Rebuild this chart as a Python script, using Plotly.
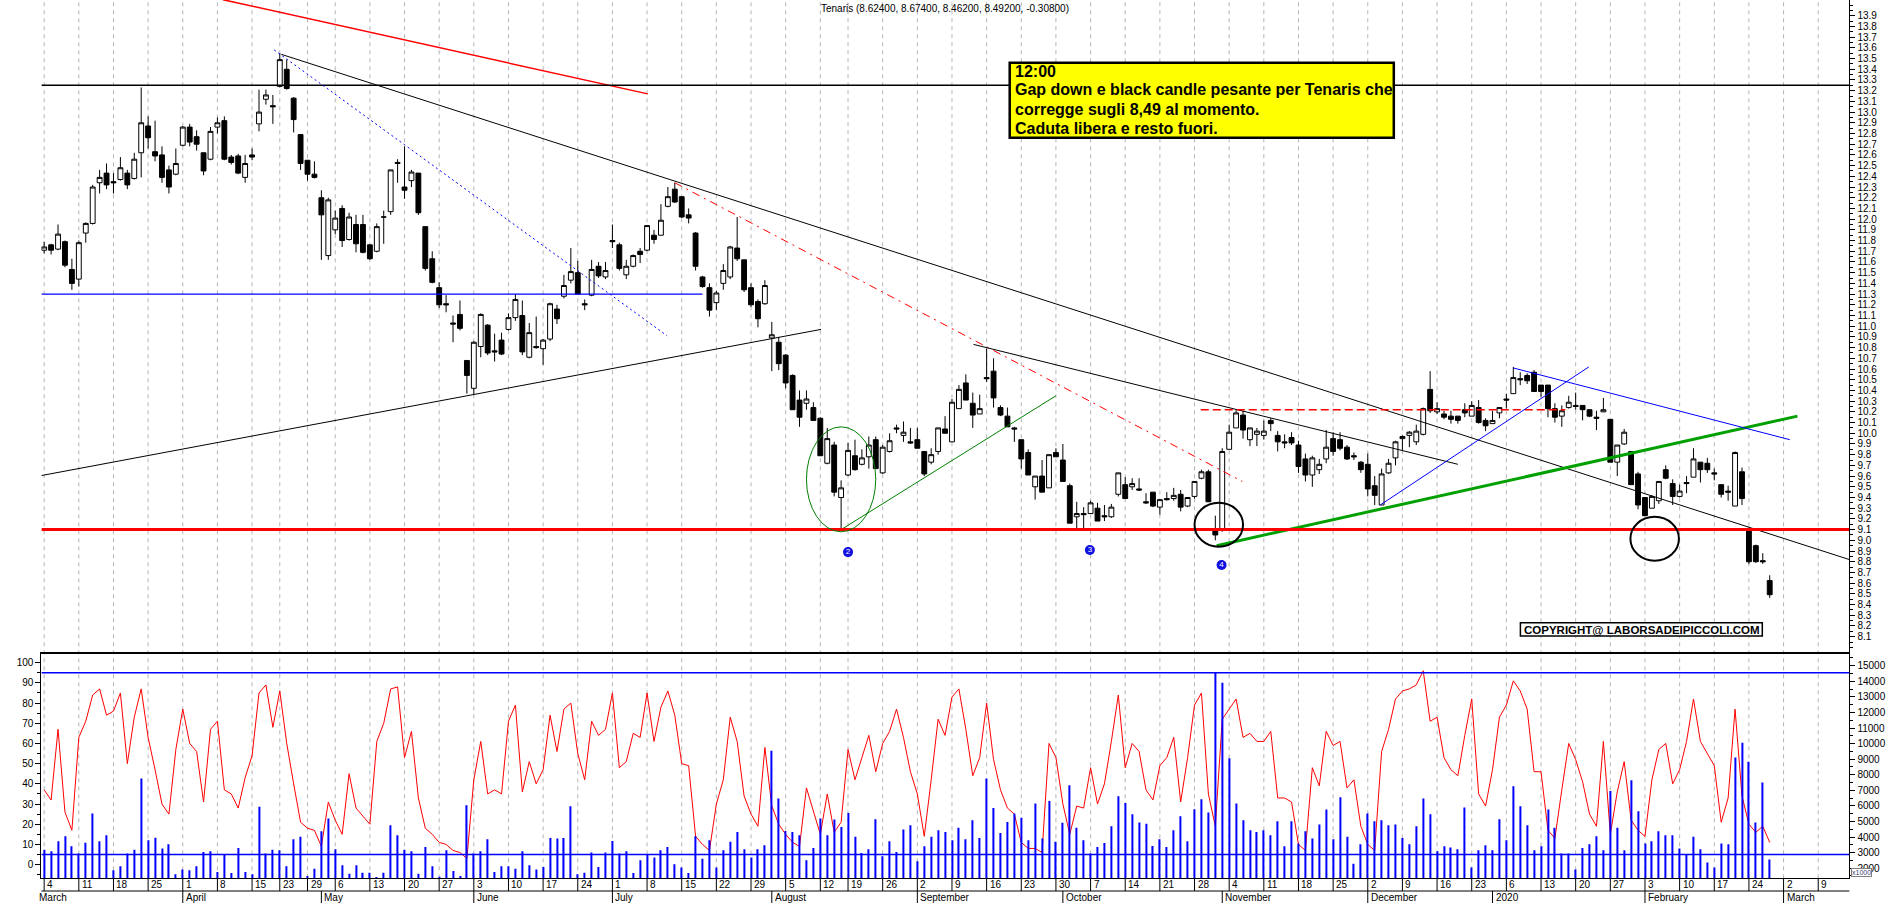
import pandas as pd
import plotly.graph_objects as go

# ---------------- data ----------------
holidays = ["2019-04-19", "2019-04-22", "2019-05-01", "2019-08-15", "2019-12-24",
            "2019-12-25", "2019-12-26", "2019-12-31", "2020-01-01"]
trading_days = [d.strftime("%Y-%m-%d") for d in pd.bdate_range("2019-03-04", "2020-03-13")
                if d.strftime("%Y-%m-%d") not in holidays]
pos = {d: i for i, d in enumerate(trading_days)}

open_ = [11.71, 11.76, 11.72, 11.79, 11.53, 11.44, 11.87, 11.96, 12.34, 12.43,
         12.35, 12.37, 12.43, 12.38, 12.62, 12.87, 12.63, 12.60, 12.46, 12.42,
         12.69, 12.86, 12.77, 12.62, 12.56, 12.86, 12.92, 12.58, 12.59, 12.39,
         12.60, 12.89, 13.12, 13.06, 13.24, 13.40, 13.13, 12.79, 12.55, 12.42,
         12.20, 11.66, 11.90, 12.10, 11.81, 11.95, 11.95, 11.76, 11.70, 12.02,
         12.07, 12.53, 12.30, 12.36, 12.43, 11.93, 11.63, 11.36, 11.21, 11.03,
         11.11, 10.68, 10.42, 10.81, 11.01, 10.77, 10.87, 10.97, 11.08, 11.10,
         10.71, 10.81, 10.79, 10.88, 11.16, 11.28, 11.43, 11.50, 11.21, 11.29,
         11.56, 11.46, 11.80, 11.76, 11.48, 11.56, 11.70, 11.71, 11.85, 11.85,
         12.12, 12.28, 12.21, 12.04, 11.87, 11.46, 11.36, 11.22, 11.40, 11.46,
         11.73, 11.62, 11.36, 11.23, 11.21, 10.89, 10.85, 10.73, 10.54, 10.31,
         10.28, 10.24, 10.14, 9.72, 9.89, 9.40, 9.61, 9.79, 9.71, 9.78,
         9.94, 9.63, 9.83, 10.05, 9.98, 9.92, 9.94, 9.83, 9.73, 9.83,
         10.04, 9.92, 10.23, 10.47, 10.28, 10.18, 10.52, 10.58, 10.24, 10.16,
         10.05, 9.94, 9.82, 9.50, 9.60, 9.49, 9.82, 9.75, 9.51, 9.22,
         9.25, 9.25, 9.30, 9.23, 9.22, 9.43, 9.52, 9.50, 9.48, 9.36,
         9.45, 9.31, 9.39, 9.39, 9.43, 9.32, 9.41, 9.58, 9.64, 9.10,
         9.11, 9.85, 10.05, 10.17, 9.94, 9.99, 9.98, 10.12, 9.98, 9.92,
         9.96, 9.89, 9.76, 9.61, 9.66, 9.76, 9.95, 9.94, 9.87, 9.79,
         9.73, 9.71, 9.51, 9.33, 9.63, 9.77, 9.95, 9.98, 9.92, 9.99,
         10.41, 10.20, 10.18, 10.16, 10.16, 10.22, 10.16, 10.24, 10.12, 10.09,
         10.19, 10.32, 10.37, 10.51, 10.54, 10.57, 10.45, 10.45, 10.23, 10.16,
         10.24, 10.26, 10.26, 10.22, 10.15, 10.20, 10.13, 9.73, 9.90, 9.83,
         9.62, 9.40, 9.30, 9.37, 9.66, 9.53, 9.41, 9.54, 9.59, 9.73,
         9.72, 9.63, 9.52, 9.46, 9.32, 9.64, 9.10, 8.95, 8.81, 8.624]
high = [11.79, 11.77, 11.95, 11.80, 11.63, 11.80, 11.97, 12.32, 12.46, 12.52,
        12.43, 12.58, 12.46, 12.62, 13.23, 12.96, 12.92, 12.68, 12.50, 12.66,
        12.87, 12.89, 12.83, 12.62, 12.86, 12.95, 12.96, 12.60, 12.61, 12.60,
        12.66, 13.21, 13.21, 13.16, 13.55, 13.49, 13.14, 12.79, 12.55, 12.54,
        12.27, 12.20, 12.08, 12.13, 12.06, 12.04, 12.04, 11.76, 11.96, 12.08,
        12.46, 12.56, 12.68, 12.46, 12.43, 11.93, 11.70, 11.41, 11.29, 11.10,
        11.24, 10.68, 10.86, 11.12, 11.02, 10.93, 10.94, 11.12, 11.30, 11.24,
        11.03, 11.09, 10.88, 11.22, 11.20, 11.48, 11.73, 11.61, 11.25, 11.62,
        11.60, 11.60, 11.95, 11.78, 11.62, 11.67, 11.73, 11.94, 11.90, 12.14,
        12.30, 12.34, 12.21, 12.10, 11.88, 11.47, 11.40, 11.33, 11.58, 11.75,
        12.02, 11.62, 11.40, 11.25, 11.43, 11.04, 10.90, 10.74, 10.55, 10.40,
        10.40, 10.29, 10.15, 10.05, 9.92, 9.56, 9.91, 9.94, 9.85, 9.97,
        9.97, 9.89, 10.00, 10.08, 10.11, 10.05, 10.05, 9.83, 9.86, 10.05,
        10.16, 10.32, 10.45, 10.55, 10.38, 10.36, 10.79, 10.70, 10.26, 10.24,
        10.06, 9.94, 9.85, 9.60, 9.75, 9.80, 9.86, 9.90, 9.53, 9.36,
        9.31, 9.37, 9.35, 9.33, 9.34, 9.63, 9.59, 9.58, 9.58, 9.44,
        9.45, 9.38, 9.45, 9.49, 9.47, 9.40, 9.55, 9.66, 9.66, 9.23,
        9.86, 10.08, 10.22, 10.21, 10.05, 10.05, 10.12, 10.14, 10.02, 9.99,
        10.01, 9.93, 9.81, 9.79, 9.76, 10.03, 10.01, 10.01, 9.89, 9.82,
        9.74, 9.81, 9.60, 9.67, 9.76, 9.93, 9.98, 10.02, 10.08, 10.24,
        10.58, 10.29, 10.21, 10.21, 10.16, 10.28, 10.30, 10.31, 10.14, 10.21,
        10.24, 10.37, 10.62, 10.57, 10.56, 10.59, 10.45, 10.45, 10.28, 10.26,
        10.35, 10.38, 10.26, 10.22, 10.21, 10.33, 10.13, 9.89, 10.04, 9.83,
        9.64, 9.40, 9.42, 9.55, 9.70, 9.57, 9.52, 9.60, 9.86, 9.73,
        9.77, 9.67, 9.52, 9.51, 9.83, 9.68, 9.12, 8.96, 8.88, 8.674]
low = [11.68, 11.67, 11.71, 11.55, 11.34, 11.37, 11.78, 11.95, 12.24, 12.28,
       12.24, 12.36, 12.28, 12.37, 12.39, 12.66, 12.54, 12.34, 12.24, 12.41,
       12.68, 12.68, 12.64, 12.41, 12.55, 12.80, 12.55, 12.51, 12.42, 12.34,
       12.55, 12.82, 13.07, 12.89, 13.23, 13.21, 12.81, 12.46, 12.36, 12.38,
       11.62, 11.62, 11.86, 11.74, 11.80, 11.69, 11.68, 11.62, 11.69, 11.77,
       12.04, 12.34, 12.19, 12.30, 12.04, 11.52, 11.40, 11.17, 11.13, 10.85,
       10.96, 10.37, 10.36, 10.71, 10.73, 10.67, 10.73, 10.96, 11.05, 10.73,
       10.70, 10.79, 10.64, 10.86, 11.02, 11.26, 11.40, 11.30, 11.15, 11.28,
       11.45, 11.44, 11.73, 11.52, 11.44, 11.55, 11.59, 11.70, 11.77, 11.85,
       12.11, 12.15, 12.01, 11.96, 11.52, 11.36, 11.09, 11.15, 11.34, 11.44,
       11.61, 11.32, 11.18, 10.99, 11.20, 10.58, 10.59, 10.42, 10.22, 10.06,
       10.22, 10.12, 9.79, 9.71, 9.41, 9.10, 9.60, 9.65, 9.70, 9.67,
       9.67, 9.62, 9.82, 10.00, 9.92, 9.90, 9.86, 9.60, 9.71, 9.80,
       10.00, 9.92, 10.23, 10.31, 10.05, 10.18, 10.48, 10.24, 10.16, 10.06,
       9.92, 9.67, 9.61, 9.38, 9.45, 9.49, 9.78, 9.55, 9.16, 9.10,
       9.10, 9.25, 9.18, 9.18, 9.21, 9.41, 9.39, 9.47, 9.46, 9.34,
       9.31, 9.24, 9.37, 9.37, 9.27, 9.31, 9.39, 9.57, 9.36, 9.00,
       9.08, 9.85, 10.05, 9.95, 9.88, 9.88, 9.94, 10.02, 9.83, 9.86,
       9.89, 9.63, 9.55, 9.50, 9.62, 9.72, 9.79, 9.84, 9.75, 9.75,
       9.63, 9.41, 9.33, 9.33, 9.62, 9.70, 9.84, 9.87, 9.89, 9.98,
       10.19, 10.18, 10.13, 10.09, 10.09, 10.15, 10.16, 10.09, 10.02, 10.09,
       10.14, 10.23, 10.37, 10.45, 10.46, 10.39, 10.34, 10.15, 10.10, 10.06,
       10.23, 10.22, 10.12, 10.15, 10.03, 10.20, 9.73, 9.60, 9.89, 9.52,
       9.29, 9.23, 9.30, 9.34, 9.57, 9.33, 9.40, 9.44, 9.59, 9.54,
       9.63, 9.56, 9.40, 9.37, 9.32, 9.33, 8.78, 8.79, 8.78, 8.462]
close = [11.74, 11.71, 11.86, 11.57, 11.40, 11.78, 11.96, 12.30, 12.39, 12.32,
         12.34, 12.48, 12.32, 12.56, 12.90, 12.76, 12.59, 12.39, 12.30, 12.52,
         12.86, 12.72, 12.70, 12.45, 12.82, 12.90, 12.56, 12.53, 12.43, 12.52,
         12.58, 13.00, 13.16, 13.05, 13.49, 13.22, 12.93, 12.52, 12.42, 12.39,
         12.04, 12.18, 12.01, 11.80, 12.02, 11.77, 11.69, 11.63, 11.93, 12.02,
         12.46, 12.52, 12.27, 12.44, 12.06, 11.54, 11.41, 11.20, 11.20, 11.02,
         10.98, 10.54, 10.85, 11.11, 10.75, 10.76, 10.74, 11.08, 11.25, 10.76,
         10.94, 10.80, 10.87, 11.21, 11.07, 11.38, 11.51, 11.30, 11.20, 11.53,
         11.47, 11.52, 11.79, 11.54, 11.56, 11.66, 11.67, 11.94, 11.81, 11.99,
         12.21, 12.16, 12.02, 12.01, 11.56, 11.37, 11.15, 11.31, 11.52, 11.74,
         11.63, 11.34, 11.20, 11.07, 11.38, 10.92, 10.65, 10.47, 10.22, 10.15,
         10.32, 10.12, 9.79, 9.95, 9.45, 9.49, 9.84, 9.66, 9.77, 9.89,
         9.67, 9.87, 9.93, 10.04, 10.01, 9.91, 9.86, 9.62, 9.80, 10.05,
         10.00, 10.29, 10.41, 10.31, 10.17, 10.23, 10.51, 10.33, 10.17, 10.06,
         10.04, 9.76, 9.61, 9.60, 9.45, 9.80, 9.78, 9.55, 9.16, 9.25,
         9.24, 9.35, 9.18, 9.22, 9.31, 9.63, 9.39, 9.53, 9.47, 9.35,
         9.32, 9.38, 9.38, 9.42, 9.31, 9.40, 9.55, 9.64, 9.36, 9.05,
         9.83, 10.01, 10.19, 10.03, 10.05, 10.02, 10.02, 10.09, 9.92, 9.91,
         9.91, 9.69, 9.61, 9.77, 9.71, 9.87, 9.83, 9.86, 9.76, 9.78,
         9.66, 9.48, 9.42, 9.62, 9.72, 9.92, 9.97, 10.01, 10.02, 10.23,
         10.21, 10.23, 10.15, 10.13, 10.12, 10.19, 10.26, 10.10, 10.07, 10.12,
         10.24, 10.31, 10.52, 10.50, 10.49, 10.39, 10.39, 10.23, 10.15, 10.21,
         10.29, 10.25, 10.22, 10.16, 10.14, 10.22, 9.73, 9.89, 10.01, 9.52,
         9.33, 9.23, 9.41, 9.55, 9.58, 9.41, 9.46, 9.53, 9.76, 9.66,
         9.66, 9.62, 9.43, 9.45, 9.82, 9.39, 8.80, 8.80, 8.80, 8.492]

stoch = [37, 32, 67, 26, 17, 63, 71, 84, 87, 74, 76, 85, 50, 73, 87, 63, 47, 30, 25, 57,
         77, 60, 56, 31, 67, 71, 37, 35, 28, 43, 54, 85, 89, 68, 86, 60, 40, 21, 18, 17,
         9, 31, 22, 15, 45, 28, 24, 20, 61, 70, 87, 88, 53, 66, 33, 18, 15, 11, 10, 7,
         6, 3, 42, 61, 35, 37, 35, 71, 79, 36, 51, 40, 47, 74, 56, 77, 80, 55, 42, 71,
         64, 67, 85, 48, 51, 65, 63, 85, 61, 78, 86, 74, 50, 49, 14, 10, 7, 30, 42, 73,
         61, 34, 25, 19, 58, 29, 20, 15, 11, 9, 38, 26, 15, 35, 16, 21, 57, 42, 53, 64,
         46, 60, 66, 77, 63, 46, 35, 14, 42, 72, 64, 83, 87, 67, 44, 53, 80, 52, 37, 28,
         25, 11, 8, 8, 6, 60, 53, 30, 15, 29, 28, 48, 30, 40, 61, 84, 48, 60, 56, 37,
         32, 49, 53, 63, 31, 53, 79, 85, 35, 19, 72, 77, 82, 63, 65, 61, 61, 66, 33, 33,
         31, 10, 7, 48, 39, 66, 59, 61, 38, 42, 19, 10, 7, 56, 67, 82, 86, 87, 89, 96,
         71, 73, 53, 47, 44, 64, 82, 35, 29, 47, 73, 79, 91, 86, 77, 46, 46, 17, 13, 37,
         60, 52, 41, 25, 19, 61, 15, 36, 51, 22, 17, 14, 42, 57, 60, 40, 47, 61, 82, 61,
         55, 49, 21, 33, 77, 34, 20, 16, 19, 11]

volume = [3190, 3090, 3730, 4050, 3410, 2940, 3640, 5510, 3730, 4110,
          1860, 2120, 2940, 3190, 7760, 3790, 3960, 3260, 3540, 1610,
          1910, 1860, 2120, 3040, 3090, 1760, 2890, 1690, 3300, 1760,
          1610, 5940, 2940, 3190, 3150, 2120, 3860, 4010, 1500, 1970,
          4370, 5190, 3210, 2190, 1650, 2190, 1710, 1710, 1440, 1710,
          4760, 4110, 3190, 3090, 1650, 3360, 2120, 1450, 3150, 1820,
          1500, 6040, 2940, 3090, 3860, 1760, 2120, 2120, 1970, 3090,
          2190, 1910, 2080, 3940, 3900, 3940, 5980, 1610, 1710, 3000,
          2080, 3000, 3750, 2940, 3090, 1690, 2510, 2890, 2680, 3150,
          3360, 2250, 2040, 1690, 4050, 2610, 3790, 2040, 3150, 3690,
          4330, 3210, 2680, 3210, 3470, 9540, 6470, 4390, 4330, 4110,
          2510, 3300, 5190, 4110, 5120, 4650, 5550, 4010, 2980, 3210,
          5140, 2760, 3730, 3040, 4480, 4760, 2440, 3410, 4010, 4440,
          4330, 3790, 4590, 3860, 5080, 3940, 7760, 5870, 4260, 4970,
          5510, 5230, 3790, 6150, 3900, 6320, 3690, 4910, 7330, 4590,
          3790, 2940, 3360, 3620, 4690, 6620, 6190, 5460, 4930, 4860,
          3430, 3860, 3360, 4440, 5340, 3730, 5790, 6430, 5570, 14550,
          13910, 9060, 6150, 5080, 4440, 4330, 4440, 4110, 5010, 3410,
          5010, 3580, 4370, 3900, 4800, 5760, 3860, 6560, 4010, 2290,
          3540, 5510, 5010, 5080, 4760, 4800, 3940, 3540, 4690, 6470,
          5460, 3090, 3410, 3320, 3210, 5890, 2040, 3150, 3470, 3150,
          5140, 3790, 7260, 5980, 4760, 3150, 3410, 5760, 4590, 2940,
          2940, 1910, 3300, 3540, 4050, 3150, 6960, 4590, 3150, 7650,
          5660, 3580, 3730, 4370, 4110, 4110, 3260, 2870, 4010, 3210,
          2360, 2040, 3580, 3540, 9110, 10050, 8830, 4930, 7500, 2550]

dates = trading_days[:len(close)]
xi = [pos[d] for d in dates]

# axis ticks / labels
week_starts = ["2019-03-04", "2019-03-11", "2019-03-18", "2019-03-25", "2019-04-01", "2019-04-08",
               "2019-04-15", "2019-04-23", "2019-04-29", "2019-05-06", "2019-05-13", "2019-05-20",
               "2019-05-27", "2019-06-03", "2019-06-10", "2019-06-17", "2019-06-24", "2019-07-01",
               "2019-07-08", "2019-07-15", "2019-07-22", "2019-07-29", "2019-08-05", "2019-08-12",
               "2019-08-19", "2019-08-26", "2019-09-02", "2019-09-09", "2019-09-16", "2019-09-23",
               "2019-09-30", "2019-10-07", "2019-10-14", "2019-10-21", "2019-10-28", "2019-11-04",
               "2019-11-11", "2019-11-18", "2019-11-25", "2019-12-02", "2019-12-09", "2019-12-16",
               "2019-12-23", "2020-01-06", "2020-01-13", "2020-01-20", "2020-01-27", "2020-02-03",
               "2020-02-10", "2020-02-17", "2020-02-24", "2020-03-02", "2020-03-09"]
month_starts = ["2019-04-01", "2019-05-02", "2019-06-03", "2019-07-01", "2019-08-01", "2019-09-02",
                "2019-10-01", "2019-11-01", "2019-12-02", "2020-01-02", "2020-02-03", "2020-03-02"]
month_names = ["April", "May", "June", "July", "August", "September", "October", "November",
               "December", "2020", "February", "March"]
price_ticks = [round(8.1 + 0.1 * k, 1) for k in range(59)]
stoch_ticks = list(range(0, 101, 10))
volume_ticks = list(range(2000, 15001, 1000))

# drawn studies (trading-day position, price)
trend_lines = [
    (25.8, 14.05, 87.1, 13.17),
    (-0.4, 13.25, 260.5, 13.25),
    (-0.4, 11.30, 95.0, 11.30),
    (34.2, 13.54, 260.5, 8.82),
    (-0.4, 9.605, 112.1, 10.97),
    (33.2, 13.58, 89.9, 10.91),
    (91.0, 12.34, 172.9, 9.55),
    (134.1, 10.83, 204.0, 9.71),
    (115.0, 9.10, 146.0, 10.35),
    (166.9, 10.22, 219.5, 10.22),
    (169.2, 8.95, 253.0, 10.16),
    (192.8, 9.33, 222.9, 10.62),
    (212.0, 10.61, 251.9, 9.94),
    (-0.4, 9.10, 260.5, 9.10),
]
trend_styles = [
    ("#ff0000", 1.5, "solid"), ("#000000", 1.5, "solid"), ("#0000ff", 1.2, "solid"),
    ("#000000", 1, "solid"), ("#000000", 1, "solid"), ("#0000ff", 1, "2px,3px"),
    ("#ff0000", 1, "8px,5px,2px,5px"), ("#000000", 1, "solid"), ("#008000", 1, "solid"),
    ("#ff0000", 1.5, "8px,4px"), ("#00a000", 3, "solid"), ("#0000ff", 1, "solid"),
    ("#0000ff", 1, "solid"), ("#ff0000", 3, "solid"),
]
ellipses = [(110.0, 9.08, 120.0, 10.06), (166.0, 8.94, 173.0, 9.35), (228.9, 8.81, 235.9, 9.22)]
ellipse_styles = [("#008000", 1), ("#000000", 2), ("#000000", 2)]
wave_labels = ["2", "3", "4"]
wave_x = [116.0, 150.9, 169.9]
wave_y = [8.89, 8.91, 8.77]

# ---------------- layout geometry (pixels) ----------------
W, H = 1890, 903
PL, PR = 41.4, 1849.4
Y_SEP, Y_BOT, ROW2 = 652.3, 878.3, 891.0
X_RANGE = [-0.4, 260.5]
P_RANGE = [7.954, 14.047]
S_RANGE = [-6.78, 105.14]
V_RANGE = [1350, 15860]


def fx(p):
    return p / W


def fy(p):
    return 1 - p / H


FONT = "Liberation Sans, Arial, sans-serif"

fig = go.Figure()

fig.add_trace(go.Bar(x=xi, y=volume, width=0.16, marker=dict(color="#0000ff", line=dict(width=0)),
                     xaxis="x2", yaxis="y4", hoverinfo="skip"))
fig.add_trace(go.Scatter(x=xi, y=stoch, mode="lines", line=dict(color="#ff0000", width=1),
                         xaxis="x2", yaxis="y3", hoverinfo="skip"))
fig.add_trace(go.Candlestick(
    x=xi, open=open_, high=high, low=low, close=close,
    increasing=dict(line=dict(color="black", width=1), fillcolor="white"),
    decreasing=dict(line=dict(color="black", width=1), fillcolor="black"),
    whiskerwidth=0, xaxis="x", yaxis="y", hoverinfo="skip"))
fig.add_trace(go.Scatter(x=wave_x, y=wave_y, mode="markers+text", text=wave_labels,
                         textposition="middle center",
                         textfont=dict(color="white", size=8, family=FONT),
                         marker=dict(color="#1010e0", size=10), xaxis="x", yaxis="y",
                         hoverinfo="skip"))

shapes = []
# weekly dashed grid
for d in week_starts:
    shapes.append(dict(type="line", xref="x", yref="paper", x0=pos[d], x1=pos[d],
                       y0=fy(Y_BOT), y1=1, line=dict(color="#b4b4b4", width=1, dash="4px,4px"),
                       layer="below"))
    shapes.append(dict(type="line", xref="x", yref="paper", x0=pos[d], x1=pos[d],
                       y0=fy(ROW2), y1=fy(Y_BOT), line=dict(color="black", width=1)))
for d in month_starts:
    shapes.append(dict(type="line", xref="x", yref="paper", x0=pos[d], x1=pos[d],
                       y0=0, y1=fy(ROW2), line=dict(color="black", width=1)))
shapes.append(dict(type="line", xref="paper", yref="paper", x0=fx(PL), x1=fx(PR),
                   y0=fy(ROW2), y1=fy(ROW2), line=dict(color="black", width=1)))
# stochastic 5 / 95 levels
for lvl in (5, 95):
    shapes.append(dict(type="line", xref="x2", yref="y3", x0=X_RANGE[0], x1=X_RANGE[1],
                       y0=lvl, y1=lvl, line=dict(color="#0000ff", width=1.5)))
# trend lines
for (x0, y0, x1, y1), (c, w, dsh) in zip(trend_lines, trend_styles):
    shapes.append(dict(type="line", xref="x", yref="y", x0=x0, y0=y0, x1=x1, y1=y1,
                       line=dict(color=c, width=w, dash=dsh)))
for (x0, y0, x1, y1), (c, w) in zip(ellipses, ellipse_styles):
    shapes.append(dict(type="circle", xref="x", yref="y", x0=x0, y0=y0, x1=x1, y1=y1,
                       line=dict(color=c, width=w)))
# comment box and copyright box
shapes.append(dict(type="rect", xref="paper", yref="paper", x0=fx(1009.7), x1=fx(1393.8),
                   y0=fy(137.7), y1=fy(62.7), fillcolor="#ffff00",
                   line=dict(color="black", width=2.5)))
shapes.append(dict(type="rect", xref="paper", yref="paper", x0=fx(1520.4), x1=fx(1762.3),
                   y0=fy(636.0), y1=fy(622.7), fillcolor="white",
                   line=dict(color="black", width=1.5)))

annotations = []
for d in week_starts:
    annotations.append(dict(x=pos[d], xref="x", y=fy(884.6), yref="paper",
                            text=str(int(d[-2:])), showarrow=False, xanchor="left",
                            yanchor="middle", xshift=1, font=dict(size=10, color="black", family=FONT)))
annotations.append(dict(x=fx(37), xref="paper", y=fy(897.6), yref="paper", text="March",
                        showarrow=False, xanchor="left", yanchor="middle",
                        font=dict(size=10, color="black", family=FONT)))
for d, name in zip(month_starts, month_names):
    annotations.append(dict(x=pos[d], xref="x", y=fy(897.6), yref="paper", text=name,
                            showarrow=False, xanchor="left", yanchor="middle", xshift=1,
                            font=dict(size=10, color="black", family=FONT)))
annotations.append(dict(x=fx(945), xref="paper", y=fy(8.5), yref="paper",
                        text="Tenaris (8.62400, 8.67400, 8.46200, 8.49200, -0.30800)",
                        showarrow=False, xanchor="center", yanchor="middle",
                        font=dict(size=10, color="black", family=FONT)))
box_lines = ["12:00", "Gap down e black candle pesante per Tenaris che",
             "corregge sugli 8,49 al momento.", "Caduta libera e resto fuori."]
for txt, yy in zip(box_lines, [71.0, 90.0, 109.3, 128.3]):
    annotations.append(dict(x=fx(1012.5), xref="paper", y=fy(yy), yref="paper",
                            text="<b>" + txt + "</b>", showarrow=False, xanchor="left",
                            yanchor="middle", font=dict(size=16, color="black", family=FONT)))
annotations.append(dict(x=fx(1641.3), xref="paper", y=fy(629.6), yref="paper",
                        text="<b>COPYRIGHT@ LABORSADEIPICCOLI.COM</b>", showarrow=False,
                        xanchor="center", yanchor="middle",
                        font=dict(size=11.5, color="black", family=FONT)))
annotations.append(dict(x=fx(1851), xref="paper", y=fy(872.5), yref="paper", text="x1000",
                        showarrow=False, xanchor="left", yanchor="middle", bgcolor="white",
                        bordercolor="#808080", borderwidth=1, borderpad=0,
                        font=dict(size=7, color="#404080", family=FONT)))

tickfont = dict(size=10, color="black", family=FONT)
price_minor = [round(8.0 + 0.05 * k, 2) for k in range(121)]
price_minor = [v for v in price_minor if v not in price_ticks]
price_axis = dict(range=P_RANGE, tickmode="array", tickvals=price_ticks,
                  ticktext=[f"{v:.1f}" for v in price_ticks], ticks="outside", ticklen=5,
                  tickcolor="black", showline=True, linecolor="black", linewidth=1,
                  showgrid=False, zeroline=False, tickfont=tickfont, fixedrange=True,
                  minor=dict(tickmode="array", tickvals=price_minor, ticks="outside",
                             ticklen=3, tickcolor="black"))

fig.update_layout(
    width=W, height=H, margin=dict(l=0, r=0, t=0, b=0),
    paper_bgcolor="white", plot_bgcolor="white", showlegend=False,
    boxgap=0.3, boxgroupgap=0.0,
    xaxis=dict(domain=[fx(PL), fx(PR)], range=X_RANGE, anchor="y", showline=True,
               linecolor="black", linewidth=1.5, showticklabels=False, ticks="",
               showgrid=False, zeroline=False, rangeslider=dict(visible=False), fixedrange=True),
    xaxis2=dict(domain=[fx(PL), fx(PR)], range=X_RANGE, matches="x", anchor="y3",
                showline=True, linecolor="black", linewidth=1, showticklabels=False,
                ticks="", showgrid=False, zeroline=False, fixedrange=True),
    yaxis=dict(domain=[fy(Y_SEP), 1], side="right", anchor="x", **price_axis),
    yaxis2=dict(overlaying="y", side="left", anchor="x", **price_axis),
    yaxis3=dict(domain=[fy(Y_BOT), fy(Y_SEP)], range=S_RANGE, side="left", anchor="x2",
                tickmode="array", tickvals=stoch_ticks, ticks="outside", ticklen=5,
                tickcolor="black", showline=True, linecolor="black", showgrid=False,
                zeroline=False, tickfont=tickfont, fixedrange=True,
                minor=dict(tickmode="array", tickvals=[v + 5 for v in stoch_ticks[:-1]] + [-5],
                           ticks="outside", ticklen=3, tickcolor="black")),
    yaxis4=dict(overlaying="y3", range=V_RANGE, side="right", anchor="x2",
                tickmode="array", tickvals=volume_ticks, ticktext=[str(v) for v in volume_ticks],
                ticks="outside", ticklen=5, tickcolor="black", showline=True,
                linecolor="black", showgrid=False, zeroline=False, tickfont=tickfont,
                fixedrange=True,
                minor=dict(tickmode="array", tickvals=[v + 500 for v in volume_ticks[:-1]] + [1500, 15500],
                           ticks="outside", ticklen=3, tickcolor="black")),
    shapes=shapes, annotations=annotations,
)

fig.write_html("out.html", config={"displayModeBar": False},
               post_script="document.body.style.margin='0';document.body.style.overflow='hidden';")
